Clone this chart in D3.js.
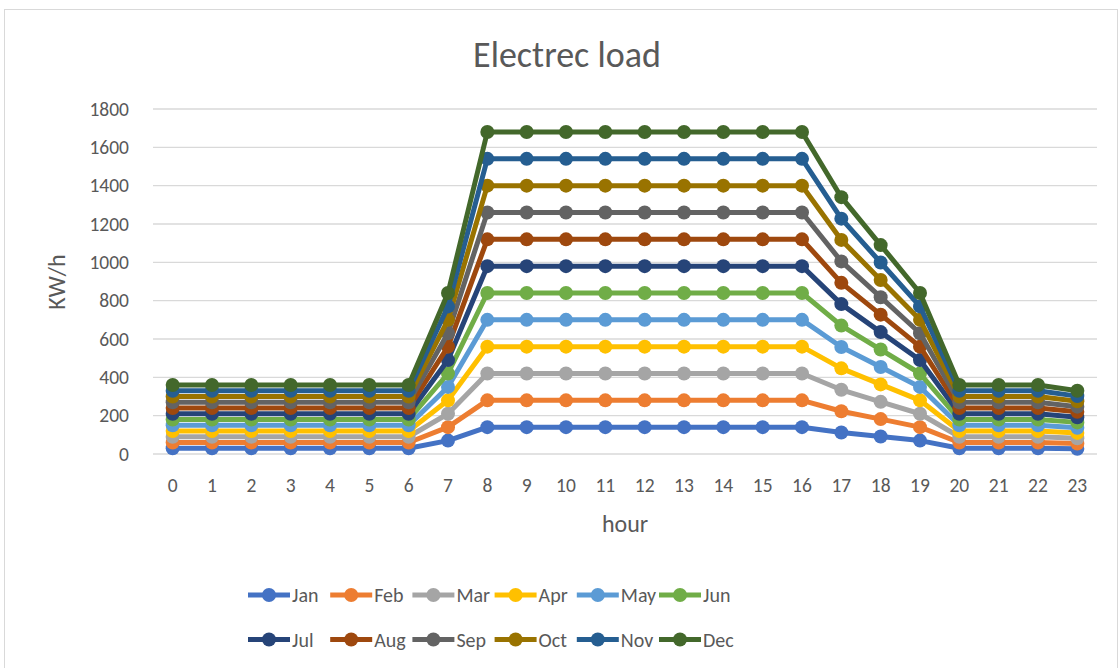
<!DOCTYPE html>
<html><head><meta charset="utf-8">
<script src="https://cdn.jsdelivr.net/npm/d3@7"></script>
<style>body{margin:0;background:#fff}svg{display:block}text{font-family:Calibri,Carlito,"Open Sans","Liberation Sans",sans-serif}</style>
</head><body><svg id="c" width="1120" height="668"></svg>
<script>
const hours = ["0","1","2","3","4","5","6","7","8","9","10","11","12","13","14","15","16","17","18","19","20","21","22","23"];
const months = ["Jan","Feb","Mar","Apr","May","Jun","Jul","Aug","Sep","Oct","Nov","Dec"];
const colors = ["#4472C4","#ED7D31","#A5A5A5","#FFC000","#5B9BD5","#70AD47","#264478","#9E480E","#636363","#997300","#255E91","#43682B"];
const yTicks = [0,200,400,600,800,1000,1200,1400,1600,1800];
const Jan = [30,30,30,30,30,30,30,70,140,140,140,140,140,140,140,140,140,112,91,70,30,30,30,27];
const Feb = [60,60,60,60,60,60,60,140,280,280,280,280,280,280,280,280,280,223,182,140,60,60,60,55];
const Mar = [90,90,90,90,90,90,90,210,420,420,420,420,420,420,420,420,420,335,272,210,90,90,90,82];
const Apr = [120,120,120,120,120,120,120,280,560,560,560,560,560,560,560,560,560,447,363,280,120,120,120,110];
const May = [150,150,150,150,150,150,150,350,700,700,700,700,700,700,700,700,700,558,454,350,150,150,150,137];
const Jun = [180,180,180,180,180,180,180,420,840,840,840,840,840,840,840,840,840,670,545,420,180,180,180,165];
const Jul = [210,210,210,210,210,210,210,490,980,980,980,980,980,980,980,980,980,782,636,490,210,210,210,192];
const Aug = [240,240,240,240,240,240,240,560,1120,1120,1120,1120,1120,1120,1120,1120,1120,893,727,560,240,240,240,220];
const Sep = [270,270,270,270,270,270,270,630,1260,1260,1260,1260,1260,1260,1260,1260,1260,1005,818,630,270,270,270,247];
const Oct = [300,300,300,300,300,300,300,700,1400,1400,1400,1400,1400,1400,1400,1400,1400,1117,908,700,300,300,300,275];
const Nov = [330,330,330,330,330,330,330,770,1540,1540,1540,1540,1540,1540,1540,1540,1540,1228,999,770,330,330,330,302];
const Dec = [360,360,360,360,360,360,360,840,1680,1680,1680,1680,1680,1680,1680,1680,1680,1340,1090,840,360,360,360,330];
const seriesVals = [Jan,Feb,Mar,Apr,May,Jun,Jul,Aug,Sep,Oct,Nov,Dec];

const svg = d3.select("#c");
svg.append("rect").attr("x",4.5).attr("y",9.5).attr("width",1113).attr("height",670).attr("fill","#fff").attr("stroke","#D9D9D9");

const L=153, R=1097, T=109, B=454;
const x = d3.scaleBand().domain(hours).range([L,R]);
const y = d3.scaleLinear().domain([0,1800]).range([B,T]);

svg.append("g").selectAll("line").data(yTicks).join("line")
  .attr("x1",L).attr("x2",R).attr("y1",d=>y(d)).attr("y2",d=>y(d))
  .attr("stroke","#D9D9D9").attr("stroke-width",1.3);

const ya = svg.append("g").attr("transform",`translate(${L},0)`)
  .call(d3.axisLeft(y).tickValues(yTicks).tickFormat(d3.format("d")).tickSize(0).tickPadding(24));
ya.select(".domain").remove();
ya.selectAll("text").attr("font-size",19.5).attr("fill","#595959");

const xa = svg.append("g").attr("transform",`translate(0,${B})`)
  .call(d3.axisBottom(x).tickSize(0).tickPadding(24));
xa.select(".domain").remove();
xa.selectAll("text").attr("font-size",19.5).attr("fill","#595959");

svg.append("text").attr("x",567).attr("y",67).attr("text-anchor","middle").attr("font-size",36).attr("fill","#595959").text("Electrec load");
svg.append("text").attr("x",625).attr("y",532).attr("text-anchor","middle").attr("font-size",24).attr("fill","#595959").text("hour");
svg.append("text").attr("transform","translate(65,282) rotate(-90)").attr("text-anchor","middle").attr("font-size",24).attr("fill","#595959").text("KW/h");

const line = d3.line().x((d,i)=>x(hours[i])+x.bandwidth()/2).y(d=>y(d));
seriesVals.forEach((vals,k)=>{
  const g = svg.append("g");
  g.append("path").datum(vals).attr("d",line).attr("fill","none").attr("stroke",colors[k]).attr("stroke-width",5).attr("stroke-linejoin","round");
  g.selectAll("circle").data(vals).join("circle")
    .attr("cx",(d,i)=>x(hours[i])+x.bandwidth()/2).attr("cy",d=>y(d)).attr("r",7).attr("fill",colors[k]);
});

const lg = svg.append("g");
months.forEach((m,k)=>{
  const col = k%6, row = Math.floor(k/6);
  const lx = 248 + col*82.2, ly = 595 + row*44.5;
  lg.append("line").attr("x1",lx).attr("x2",lx+42).attr("y1",ly).attr("y2",ly).attr("stroke",colors[k]).attr("stroke-width",5);
  lg.append("circle").attr("cx",lx+21).attr("cy",ly).attr("r",7).attr("fill",colors[k]);
  lg.append("text").attr("x",lx+44).attr("y",ly+7).attr("font-size",20).attr("fill","#595959").text(m);
});
</script></body></html>
